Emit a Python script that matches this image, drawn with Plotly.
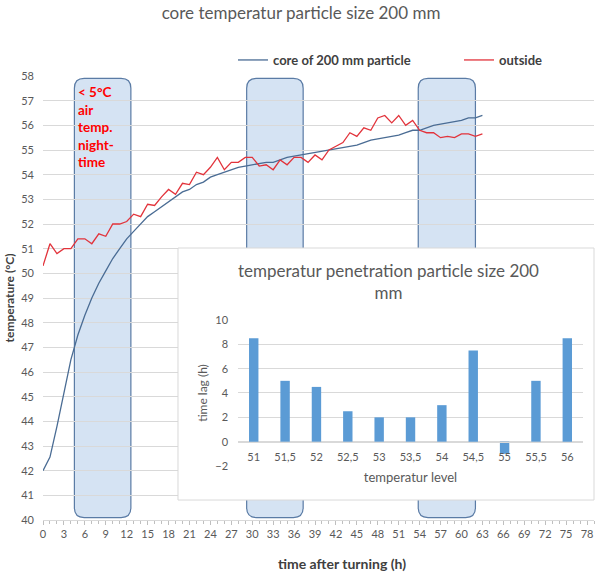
import plotly.graph_objects as go

# ---------------- data ----------------
hours = list(range(0, 64))
core_temp = [42.0, 42.55, 43.8, 45.2, 46.5, 47.5, 48.3, 49.0, 49.6, 50.1,
             50.6, 51.0, 51.4, 51.7, 52.0, 52.3, 52.5, 52.7, 52.9, 53.1,
             53.3, 53.4, 53.6, 53.7, 53.9, 54.0, 54.1, 54.2, 54.3, 54.35,
             54.4, 54.45, 54.5, 54.5, 54.6, 54.7, 54.75, 54.8, 54.85, 54.9,
             54.95, 55.0, 55.05, 55.1, 55.15, 55.2, 55.3, 55.4, 55.45, 55.5,
             55.55, 55.6, 55.7, 55.8, 55.8, 55.9, 56.0, 56.05, 56.1, 56.15,
             56.2, 56.3, 56.3, 56.4]
outside_temp = [50.3, 51.2, 50.8, 51.0, 51.0, 51.4, 51.4, 51.2, 51.6, 51.5,
                52.0, 52.0, 52.1, 52.4, 52.3, 52.8, 52.75, 53.1, 53.4, 53.2,
                53.65, 53.6, 54.1, 54.0, 54.3, 54.7, 54.2, 54.5, 54.5, 54.7,
                54.7, 54.35, 54.4, 54.2, 54.6, 54.4, 54.7, 54.7, 54.5, 54.8,
                54.6, 55.0, 55.15, 55.3, 55.7, 55.55, 55.9, 55.8, 56.3, 56.4,
                56.1, 56.4, 56.0, 56.2, 55.8, 55.7, 55.7, 55.5, 55.55, 55.5,
                55.65, 55.65, 55.55, 55.65]
series_names = ["core of 200 mm particle", "outside"]

night_start = [4.5, 29.2, 53.8]
night_end = [12.6, 37.3, 62.0]
night_low = 40.1
night_high = 57.9
night_label = "&lt; 5°C<br>air<br>temp.<br>night-<br>time"

lag_levels = ["51", "51,5", "52", "52,5", "53", "53,5", "54", "54,5", "55", "55,5", "56"]
lag_hours = [8.5, 5, 4.5, 2.5, 2, 2, 3, 7.5, -1, 5, 8.5]

main_title = "core temperatur particle size 200 mm"
inset_title = "temperatur penetration particle size 200<br>mm"

# ---------------- figure ----------------
FONT = "Lato"
GRAY = "#595959"
DARK = "#404040"
GRID = "#d9d9d9"

fig = go.Figure()

fig.add_trace(go.Scatter(x=hours, y=core_temp, mode="lines", name=series_names[0],
                         line=dict(color="#4a6c94", width=1.3), xaxis="x", yaxis="y",
                         legend="legend"))
fig.add_trace(go.Scatter(x=hours, y=outside_temp, mode="lines", name=series_names[1],
                         line=dict(color="#e2333b", width=1.3), xaxis="x", yaxis="y",
                         legend="legend2"))

# inset white box (own subplot so it covers the main chart)
fig.add_trace(go.Scatter(x=[0, 1, 1, 0, 0], y=[0, 0, 1, 1, 0], fill="toself",
                         fillcolor="white", line=dict(width=0), mode="lines",
                         hoverinfo="skip", showlegend=False, xaxis="x2", yaxis="y2"))

# inset bars
fig.add_trace(go.Bar(x=lag_levels, y=lag_hours, marker=dict(color="#5b9bd5", line=dict(width=0)),
                     showlegend=False, xaxis="x3", yaxis="y3"))

# rounded night bands
rx, ry = 1.4, 0.4
shapes = []
for x0, x1 in zip(night_start, night_end):
    y0, y1 = night_low, night_high
    path = (f"M {x0+rx},{y0} L {x1-rx},{y0} Q {x1},{y0} {x1},{y0+ry} "
            f"L {x1},{y1-ry} Q {x1},{y1} {x1-rx},{y1} L {x0+rx},{y1} "
            f"Q {x0},{y1} {x0},{y1-ry} L {x0},{y0+ry} Q {x0},{y0} {x0+rx},{y0} Z")
    shapes.append(dict(type="path", path=path, xref="x", yref="y", layer="below",
                       fillcolor="#d5e3f3", line=dict(color="#5a7ba5", width=1.2)))

box_x = [0.245, 1.0]
box_y = [0.045, 0.6126]
shapes.append(dict(type="rect", xref="paper", yref="paper", x0=box_x[0], x1=box_x[1],
                   y0=box_y[0], y1=box_y[1], line=dict(color=GRID, width=1),
                   fillcolor="rgba(0,0,0,0)", layer="above"))

bar_dom_y = [0.1216, 0.4505]
zero_pos = bar_dom_y[0] + (2 / 12) * (bar_dom_y[1] - bar_dom_y[0])

legend_font = dict(size=13, color=DARK, family=FONT, weight="bold")
legend_y = (520 - 60) / 444

fig.update_layout(
    width=602, height=573,
    margin=dict(l=43, r=8, t=76, b=53, autoexpand=False),
    paper_bgcolor="white", plot_bgcolor="white",
    font=dict(family=FONT, color=GRAY),
    title=dict(text=main_title, x=0.5, xref="container", xanchor="center",
               y=1 - 13 / 573, yanchor="middle", font=dict(size=17, color=GRAY, family=FONT)),
    showlegend=True,
    legend=dict(orientation="h", x=(233 - 43) / 551, xanchor="left",
                y=legend_y, yanchor="middle",
                font=legend_font, bgcolor="rgba(0,0,0,0)", borderwidth=0),
    legend2=dict(orientation="h", x=(459 - 43) / 551, xanchor="left",
                 y=legend_y, yanchor="middle",
                 font=legend_font, bgcolor="rgba(0,0,0,0)", borderwidth=0),
    xaxis=dict(domain=[0, 1], range=[0, 79], tick0=0, dtick=3, showgrid=False, zeroline=False,
               showline=True, linecolor=GRID, linewidth=1,
               ticks="outside", ticklen=4, tickcolor="#bfbfbf",
               minor=dict(dtick=1, ticks="outside", ticklen=3, tickcolor="#bfbfbf"),
               tickfont=dict(size=11, color=GRAY, family=FONT), fixedrange=True),
    yaxis=dict(domain=[0, 1], range=[40, 58], dtick=1, showgrid=True, gridcolor=GRID,
               zeroline=False, showline=False, ticks="", ticklabelstandoff=8,
               tickfont=dict(size=11, color=GRAY, family=FONT),
               title=dict(text="temperature (°C)", standoff=4,
                          font=dict(size=12, color=DARK, family=FONT, weight="bold")),
               fixedrange=True),
    xaxis2=dict(domain=box_x, range=[0, 1], visible=False, anchor="y2", fixedrange=True),
    yaxis2=dict(domain=box_y, range=[0, 1], visible=False, anchor="x2", fixedrange=True),
    xaxis3=dict(domain=[0.354, 0.98], type="category", anchor="free", position=zero_pos,
                showline=True, linecolor=GRID, showgrid=False, ticks="", ticklabelstandoff=5,
                tickfont=dict(size=11, color=GRAY, family=FONT),
                title=dict(text="temperatur level", standoff=11,
                           font=dict(size=13, color=GRAY, family=FONT)),
                fixedrange=True),
    yaxis3=dict(domain=bar_dom_y, range=[-2, 10], dtick=2, anchor="x3", showgrid=True,
                gridcolor=GRID, zeroline=False, showline=False, ticks="", ticklabelstandoff=9,
                tickfont=dict(size=11, color=GRAY, family=FONT),
                title=dict(text="time lag (h)", standoff=5,
                           font=dict(size=12, color=GRAY, family=FONT)),
                fixedrange=True),
    bargap=0.7,
    shapes=shapes,
    annotations=[
        dict(text=night_label, x=night_start[0] + 0.3, y=57.75, xref="x", yref="y",
             xanchor="left", yanchor="top", align="left", showarrow=False,
             font=dict(size=13.5, color="#ff0000", family=FONT, weight="bold")),
        dict(text="time after turning (h)", x=(342 - 43) / 551, y=(520 - 563) / 444,
             xref="paper", yref="paper", xanchor="center", yanchor="middle", showarrow=False,
             font=dict(size=14, color=DARK, family=FONT, weight="bold")),
        dict(text=inset_title, x=(388 - 43) / 551, y=(520 - 258) / 444,
             xref="paper", yref="paper", xanchor="center", yanchor="top", showarrow=False,
             align="center", font=dict(size=17, color=GRAY, family=FONT)),
    ],
)

fig.write_html("out.html", config={"displayModeBar": False},
               post_script="document.body.style.margin='0';")
